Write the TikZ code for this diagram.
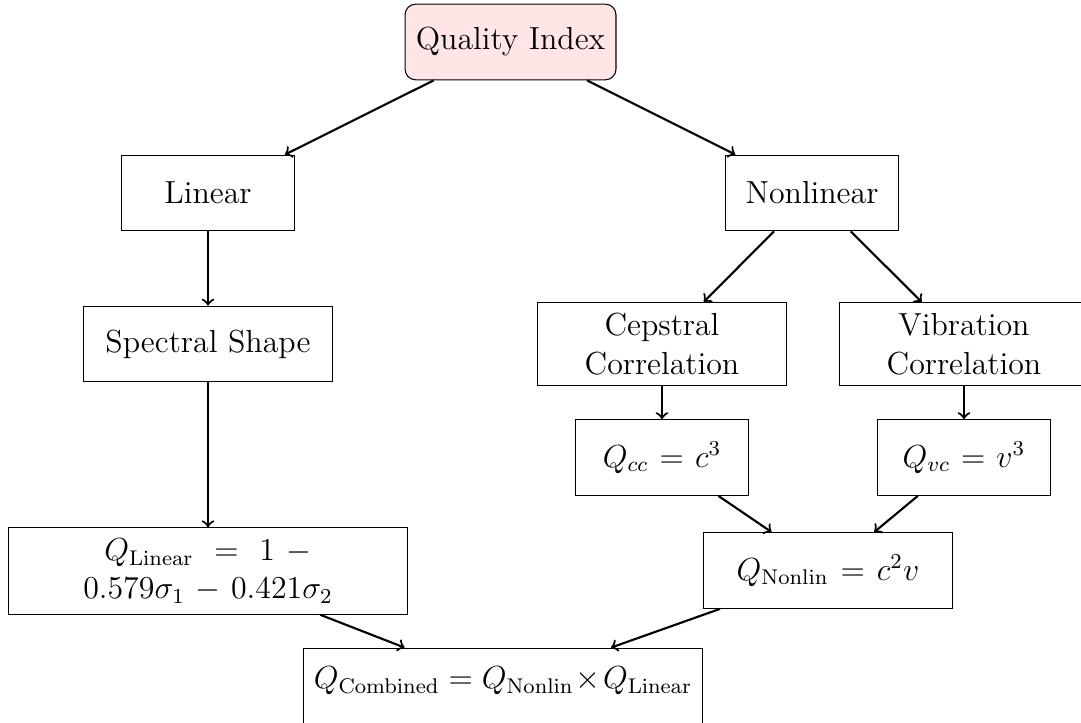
\documentclass[tikz,border=0pt]{standalone}
\tikzset{
  every node/.style={font=\fontsize{12}{14.5}\selectfont},
  block/.style={draw, rectangle, align=center, inner sep=4pt, minimum height=1cm},
  rootblock/.style={draw, rectangle, inner sep=4pt, minimum height=1cm,
    minimum width=79.3pt, rounded corners=4pt, fill=red!10},
  link/.style={->, thick},
}
\begin{document}
\begin{tikzpicture}[x=0.37594pt, y=-0.37594pt]
\useasboundingbox (0,0) rectangle (1081,722);

% top of the tree
\node[rootblock] (qi) at (510.5,42) {Quality Index};

% two branches
\node[block, text width=2cm] (lin) at (208,193) {Linear};
\node[block, text width=2cm] (nonlin) at (812,193) {Nonlinear};

% features
\node[block, text width=3cm] (spec) at (208,344) {Spectral Shape};
\node[block, text width=3cm] (cep) at (662,344) {Cepstral\\Correlation};
\node[block, text width=3cm] (vib) at (964,344) {Vibration\\Correlation};

% partial indices
\node[block, text width=2cm] (qcc) at (662,457.5) {$Q_{cc} = c^3$};
\node[block, text width=2cm] (qvc) at (964,457.5) {$Q_{vc} = v^3$};
\node[block, text width=3cm] (qnl) at (828,570.5) {$Q_{\mathrm{Nonlin}} = c^2 v$};
\node[block, text width=5cm] (qlin) at (208,571) {$Q_{\mathrm{Linear}} = 1 - 0.579\sigma_1 - 0.421\sigma_2$};

% combined index
\node[block, text width=5cm, text height=8.2pt, text depth=6pt] (qcomb) at (503,686)
  {$Q_{\mathrm{Combined}} = Q_{\mathrm{Nonlin}} \times Q_{\mathrm{Linear}}$};

% connectors
\draw[link] (qi) -- (lin);
\draw[link] (qi) -- (nonlin);
\draw[link] (lin) -- (spec);
\draw[link] (nonlin) -- (cep);
\draw[link] (nonlin) -- (vib);
\draw[link] (cep) -- (qcc);
\draw[link] (vib) -- (qvc);
\draw[link] (qcc) -- (qnl);
\draw[link] (qvc) -- (qnl);
\draw[link] (spec) -- (qlin);
\draw[link] (qlin) -- (qcomb);
\draw[link] (qnl) -- (qcomb);
\end{tikzpicture}
\end{document}
